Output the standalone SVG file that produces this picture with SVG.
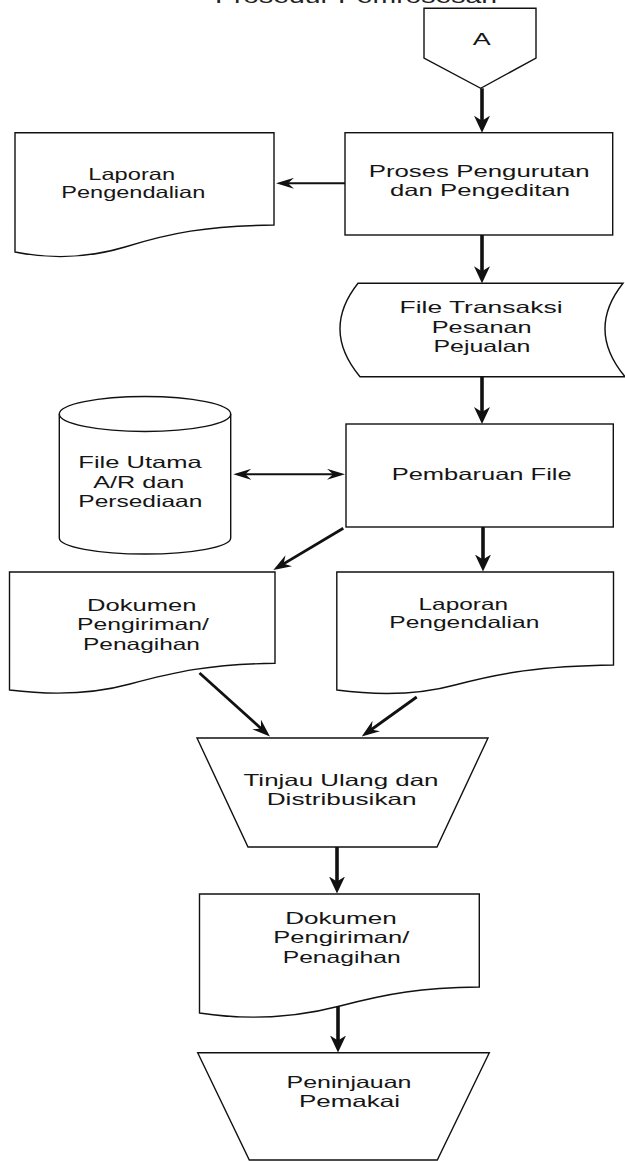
<svg xmlns="http://www.w3.org/2000/svg" width="625" height="1161" viewBox="0 0 625 1161">
<style>
.bg{fill:#fff}
.s{fill:#fff;stroke:#111;stroke-width:1.4;stroke-linejoin:miter}
.t{font-family:"Liberation Sans",Arial,Helvetica,sans-serif;font-size:16.5px;fill:#151515;text-anchor:middle}
.title{font-family:"Liberation Sans",Arial,Helvetica,sans-serif;font-size:20px;fill:#222;text-anchor:start}
.k{stroke:#111;fill:none;stroke-linecap:butt}
.w1{stroke-width:3.6}
.w2{stroke-width:2.8}
.w3{stroke-width:2}
</style>
<defs>
<marker id="big" viewBox="0 0 17 16" refX="11" refY="8" markerWidth="17" markerHeight="16" markerUnits="userSpaceOnUse" orient="auto-start-reverse">
<path d="M0,0 L17,8 L0,16 L5,8 Z" fill="#111"/>
</marker>
<marker id="mid" viewBox="0 0 18 13" refX="12" refY="6.5" markerWidth="18" markerHeight="13" markerUnits="userSpaceOnUse" orient="auto-start-reverse">
<path d="M0,0 L18,6.5 L0,13 L6,6.5 Z" fill="#111"/>
</marker>
<marker id="thin" viewBox="0 0 18 11" refX="12" refY="5.5" markerWidth="18" markerHeight="11" markerUnits="userSpaceOnUse" orient="auto-start-reverse">
<path d="M0,0 L18,5.5 L0,11 L6,5.5 Z" fill="#111"/>
</marker>
</defs>
<rect class="bg" x="0" y="0" width="625" height="1161"/>
<text class="title" x="215" y="2.5" textLength="282" lengthAdjust="spacingAndGlyphs">Prosedur Pemrosesan</text>

<g id="connectors">
<line class="k w1" x1="482" y1="88.3" x2="482" y2="126.7" marker-end="url(#big)"/>
<line class="k w3" x1="345" y1="183.3" x2="282" y2="183.3" marker-end="url(#thin)"/>
<line class="k w1" x1="482" y1="235" x2="482" y2="277.3" marker-end="url(#big)"/>
<line class="k w1" x1="482" y1="376.7" x2="482" y2="418" marker-end="url(#big)"/>
<line class="k w3" x1="239.3" y1="474.3" x2="339" y2="474.3" marker-start="url(#thin)" marker-end="url(#thin)"/>
<line class="k w2" x1="343.3" y1="528.3" x2="278.5" y2="566.9" marker-end="url(#mid)"/>
<line class="k w1" x1="483" y1="527" x2="483" y2="565.5" marker-end="url(#big)"/>
<line class="k w2" x1="199.5" y1="673" x2="265.5" y2="732.5" marker-end="url(#mid)"/>
<line class="k w2" x1="416.7" y1="697" x2="366.6" y2="733" marker-end="url(#mid)"/>
<line class="k w1" x1="337" y1="847" x2="337" y2="887.5" marker-end="url(#big)"/>
<line class="k w1" x1="338" y1="1006" x2="338" y2="1046.5" marker-end="url(#big)"/>
</g>

<g id="node-a">
<polygon class="s" points="424,8.3 536,8.3 536,58 480.7,88.3 424,58"/>
<text class="t" x="481.7" y="45" textLength="18" lengthAdjust="spacingAndGlyphs">A</text>
</g>

<g id="node-proses">
<rect class="s" x="345" y="132.7" width="267.7" height="102.3"/>
<text class="t" x="479.2" y="176.7" textLength="221" lengthAdjust="spacingAndGlyphs">Proses Pengurutan</text>
<text class="t" x="480" y="196" textLength="180" lengthAdjust="spacingAndGlyphs">dan Pengeditan</text>
</g>

<g id="node-laporan1">
<path class="s" d="M15,132.7 L274,132.7 L274,225 C205,226 170,233 125,247 C85,259 50,259 15,252 Z"/>
<text class="t" x="131.7" y="180" textLength="86.7" lengthAdjust="spacingAndGlyphs">Laporan</text>
<text class="t" x="133.3" y="198.3" textLength="144" lengthAdjust="spacingAndGlyphs">Pengendalian</text>
</g>

<g id="node-filetransaksi">
<path class="s" d="M358,283.3 L623,283.3 Q586,330 625,376.7 L360,376.7 Q321,330 358,283.3 Z"/>
<text class="t" x="481" y="313.3" textLength="163" lengthAdjust="spacingAndGlyphs">File Transaksi</text>
<text class="t" x="481.7" y="333.3" textLength="100" lengthAdjust="spacingAndGlyphs">Pesanan</text>
<text class="t" x="482" y="351.7" textLength="97" lengthAdjust="spacingAndGlyphs">Pejualan</text>
</g>

<g id="node-fileutama">
<path class="s" d="M59.3,414 A85.7,17.5 0 0 1 230.7,414 L230.7,538 A85.7,16 0 0 1 59.3,538 Z"/>
<path class="s" fill="none" d="M59.3,414 A85.7,17.5 0 0 0 230.7,414"/>
<text class="t" x="140" y="468.3" textLength="123.3" lengthAdjust="spacingAndGlyphs">File Utama</text>
<text class="t" x="138.8" y="487.7" textLength="91" lengthAdjust="spacingAndGlyphs">A/R dan</text>
<text class="t" x="140.3" y="507.3" textLength="124" lengthAdjust="spacingAndGlyphs">Persediaan</text>
</g>

<g id="node-pembaruan">
<rect class="s" x="346" y="424" width="267.3" height="103"/>
<text class="t" x="481.7" y="480" textLength="180" lengthAdjust="spacingAndGlyphs">Pembaruan File</text>
</g>

<g id="node-dokumen1">
<path class="s" d="M9.5,572 L275,572 L275,663.3 C210,664 175,672 130,684 C90,695 50,695 9.5,690 Z"/>
<text class="t" x="141.7" y="610.5" textLength="109.5" lengthAdjust="spacingAndGlyphs">Dokumen</text>
<text class="t" x="143" y="630" textLength="132" lengthAdjust="spacingAndGlyphs">Pengiriman/</text>
<text class="t" x="141.5" y="649.5" textLength="117" lengthAdjust="spacingAndGlyphs">Penagihan</text>
</g>

<g id="node-laporan2">
<path class="s" d="M336.8,572 L613.5,572 L613.5,665 C540,666 500,673 455,685 C415,696 375,695 336.8,690 Z"/>
<text class="t" x="463.3" y="610" textLength="89.5" lengthAdjust="spacingAndGlyphs">Laporan</text>
<text class="t" x="464.3" y="628.3" textLength="150" lengthAdjust="spacingAndGlyphs">Pengendalian</text>
</g>

<g id="node-tinjau">
<polygon class="s" points="197,738 488,738 437,847 248,847"/>
<text class="t" x="341" y="786" textLength="195" lengthAdjust="spacingAndGlyphs">Tinjau Ulang dan</text>
<text class="t" x="341.7" y="805" textLength="150" lengthAdjust="spacingAndGlyphs">Distribusikan</text>
</g>

<g id="node-dokumen2">
<path class="s" d="M199.5,894 L479.3,894 L479.3,987 C420,988 390,993 340,1006 C290,1019 245,1020 199.5,1013 Z"/>
<text class="t" x="341" y="924" textLength="111.7" lengthAdjust="spacingAndGlyphs">Dokumen</text>
<text class="t" x="341.3" y="943.3" textLength="136" lengthAdjust="spacingAndGlyphs">Pengiriman/</text>
<text class="t" x="341.7" y="962.7" textLength="118" lengthAdjust="spacingAndGlyphs">Penagihan</text>
</g>

<g id="node-peninjauan">
<polygon class="s" points="197.7,1052.7 489.3,1052.7 437.3,1160 249.3,1160"/>
<text class="t" x="349" y="1088.3" textLength="125" lengthAdjust="spacingAndGlyphs">Peninjauan</text>
<text class="t" x="349.5" y="1106.7" textLength="101" lengthAdjust="spacingAndGlyphs">Pemakai</text>
</g>
</svg>
